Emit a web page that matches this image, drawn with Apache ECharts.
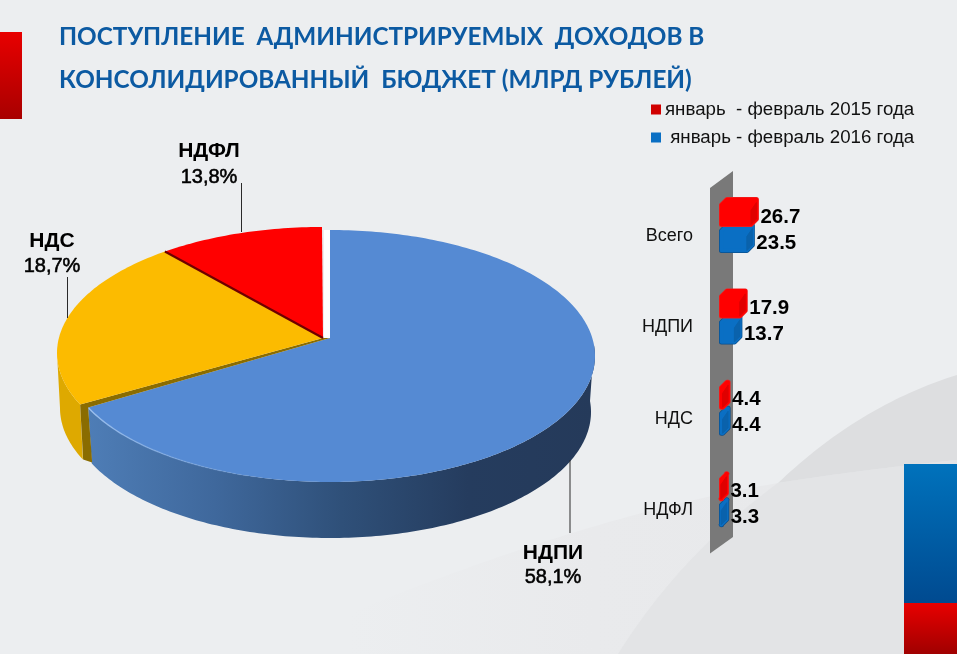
<!DOCTYPE html>
<html><head><meta charset="utf-8">
<style>html,body{margin:0;padding:0;background:#eceef0}#c{width:957px;height:654px}</style>
<script src="https://cdn.jsdelivr.net/npm/echarts@6/dist/echarts.min.js"></script>
</head><body><div id="c"></div>
<script>
// ---- data ----
const titleLines = ['ПОСТУПЛЕНИЕ  АДМИНИСТРИРУЕМЫХ  ДОХОДОВ В', 'КОНСОЛИДИРОВАННЫЙ  БЮДЖЕТ (МЛРД РУБЛЕЙ)'];
const pieNames = ['НДПИ', 'НДС', 'НДФЛ'];
const piePercentLabels = ['58,1%', '18,7%', '13,8%'];
const pieDrawnShares = [68.3, 21.6, 10.1];   // share of the circle each slice occupies in the picture
const barCategories = ['Всего', 'НДПИ', 'НДС', 'НДФЛ'];
const seriesName2015 = 'январь  - февраль 2015 года';
const seriesName2016 = ' январь - февраль 2016 года';
const values2015 = [26.7, 17.9, 4.4, 3.1];
const values2016 = [23.5, 13.7, 4.4, 3.3];

// ---- layout and style ----
const FONT = '"Liberation Sans", Arial, sans-serif';
const pieLabelPlaces = [
  {x: 553, y1: 553, y2: 577, line: [570, 460, 533]},
  {x: 52,  y1: 241, y2: 266, line: [67.5, 277, 318]},
  {x: 209, y1: 151, y2: 177, line: [241.5, 183, 232]}
];
const G = echarts.graphic;
const vGrad = (a, b) => new G.LinearGradient(0, 0, 0, 1, [{offset: 0, color: a}, {offset: 1, color: b}]);

function bez(p0, c, p1, n) {
  const out = [];
  for (let i = 0; i <= (n || 40); i++) {
    const t = i / (n || 40), u = 1 - t;
    out.push([u*u*p0[0] + 2*u*t*c[0] + t*t*p1[0], u*u*p0[1] + 2*u*t*c[1] + t*t*p1[1]]);
  }
  return out;
}
function ell(cx, cy, rx, ry, deg) {
  const a = deg * Math.PI / 180;
  return [cx + rx * Math.sin(a), cy - ry * Math.cos(a)];
}
function arc(cx, cy, rx, ry, from, to) {
  const pts = [], step = from < to ? 1 : -1;
  for (let d = from; step > 0 ? d < to : d > to; d += step) pts.push(ell(cx, cy, rx, ry, d));
  pts.push(ell(cx, cy, rx, ry, to));
  return pts;
}

const BLUE = {cx: 330, cy: 356, rx: 265, ry: 126, ax: 330, ay: 338};
const REST = {cx: 322, cy: 353, rx: 265, ry: 126, ax: 323, ay: 338};
const DEPTH = 56;
const total = pieDrawnShares.reduce((a, b) => a + b, 0);

function renderPie(params, api) {
  const i = params.dataIndex;
  let start = 0;
  for (let k = 0; k < i; k++) start += pieDrawnShares[k];
  const from = start / total * 360, to = (start + api.value(0)) / total * 360;
  const kids = [];
  if (i === 0) {
    const P = BLUE;
    const side = arc(P.cx, P.cy, P.rx, P.ry, 85, to)
      .concat(arc(P.cx, P.cy + DEPTH, 261, P.ry, to, 85));
    kids.push({type: 'polygon', shape: {points: side}, style: {
      fill: new G.LinearGradient(0, 0, 1, 0, [
        {offset: 0, color: '#4e7db6'}, {offset: 0.25, color: '#3f689c'},
        {offset: 0.5, color: '#2f5079'}, {offset: 0.75, color: '#253c5e'}, {offset: 1, color: '#253a5a'}])}});
    // white gap beside the slice start
    kids.push({type: 'polygon', shape: {points: [[324, 230], [P.ax, 230], [P.ax, P.ay], [324, 340]]}, style: {fill: '#ffffff'}});
    kids.push({type: 'polygon', shape: {points: [[P.ax, P.ay]].concat(arc(P.cx, P.cy, P.rx, P.ry, from, to))},
      style: {fill: '#558ad3'}});
    kids.push({type: 'polyline', shape: {points: arc(P.cx, P.cy, P.rx, P.ry, to, 195)}, style: {
      fill: null, lineWidth: 1.4,
      stroke: new G.LinearGradient(0, 0, 1, 0, [{offset: 0, color: '#9cc0ee'}, {offset: 1, color: 'rgba(120,165,225,0.05)'}])}});
  } else {
    const P = REST;
    const fill = i === 1 ? '#fcbb00' : '#ff0000';
    if (i === 1) {
      const side = arc(P.cx, P.cy, P.rx, P.ry, from, 270)
        .concat(arc(P.cx, P.cy + DEPTH - 1, 262, P.ry, 270, from));
      kids.push({type: 'polygon', shape: {points: side}, style: {fill: '#dea900'}});
      const e = ell(P.cx, P.cy, P.rx, P.ry, from);
      const b = ell(BLUE.cx, BLUE.cy, BLUE.rx, BLUE.ry, from);
      kids.push({type: 'polygon', shape: {points: [[P.ax, P.ay], e, [e[0] + 3, e[1] + 55], [b[0] + 4, b[1] + 55], b, [BLUE.ax, BLUE.ay]]},
        style: {fill: '#8a6c00'}});
    }
    kids.push({type: 'polygon', shape: {points: [[P.ax, P.ay]].concat(arc(P.cx, P.cy, P.rx, P.ry, from, to))}, style: {fill: fill}});
    if (i === 2) {
      kids.push({type: 'line', shape: {x1: P.ax, y1: P.ay, x2: ell(P.cx, P.cy, P.rx, P.ry, from)[0], y2: ell(P.cx, P.cy, P.rx, P.ry, from)[1]},
        style: {stroke: '#6e0000', lineWidth: 2.2}});
    }
  }
  const L = pieLabelPlaces[i];
  kids.push({type: 'line', shape: {x1: L.line[0], y1: L.line[1], x2: L.line[0], y2: L.line[2]}, style: {stroke: '#2a2a2a', lineWidth: 1}});
  kids.push({type: 'text', x: L.x, y: L.y1, style: {text: pieNames[i], fill: '#000', fontFamily: FONT, fontSize: 21, fontWeight: 'bold', align: 'center', verticalAlign: 'middle'}});
  kids.push({type: 'text', x: L.x, y: L.y2, style: {text: piePercentLabels[i], fill: '#000', stroke: '#000', lineWidth: 0.55, fontFamily: FONT, fontSize: 20, align: 'center', verticalAlign: 'middle'}});
  return {type: 'group', children: kids};
}

function barRenderer(isTop, main, sideCol, edge) {
  return function (params, api) {
    const v = api.value(0), cat = api.value(1);
    const p = api.coord([v, cat]), xv = p[0], mid = p[1];
    const x0 = api.coord([0, cat])[0] - 6, d = 8;
    const yt = isTop ? mid - 30 : mid - 4, yb = isTop ? mid : mid + 26;
    const r = 2.5;
    const hex = [[x0 + r, yb - r], [x0 + r, yt + d], [x0 + d, yt + r], [xv - r, yt + r], [xv - r, yb - d], [xv - d, yb - r]];
    const rightSide = [[xv - r, yt + r + 3], [xv - r, yb - d], [xv - d, yb - r], [xv - d, yt + d + r + 3]];
    return {type: 'group', children: [
      {type: 'polygon', shape: {points: hex}, style: {fill: edge, stroke: edge, lineWidth: 5, lineJoin: 'round'}},
      {type: 'polygon', shape: {points: hex}, style: {fill: main, stroke: main, lineWidth: 3.6, lineJoin: 'round'}},
      {type: 'polygon', shape: {points: rightSide}, style: {fill: sideCol, stroke: sideCol, lineWidth: 1, lineJoin: 'round'}},
      {type: 'text', x: xv + 1.5, y: isTop ? mid - 10 : mid + 16, style: {
        text: v.toFixed(1), fill: '#000', fontFamily: FONT, fontSize: 20.5, fontWeight: 'bold', align: 'left', verticalAlign: 'middle'}}
    ]};
  };
}

const backdrop = [
  {type: 'polygon', silent: true, z: -10, shape: {points: bez([350, 613], [590, 515], [778, 483]).concat(bez([778, 483], [860, 470], [957, 460]), [[957, 654], [350, 654]])},
    style: {fill: new G.LinearGradient(0, 0, 1, 0, [{offset: 0, color: '#eceef0'}, {offset: 0.4, color: '#e9eaec'}, {offset: 1, color: '#e7e8ea'}])}},
  {type: 'polygon', silent: true, z: -9, shape: {points: bez([778, 483], [680, 555], [618, 654]).concat([[957, 654]], bez([957, 460], [860, 470], [778, 483]))},
    style: {fill: '#e3e4e6'}},
  {type: 'polygon', silent: true, z: -9, shape: {points: bez([778, 483], [860, 405], [957, 375]).concat(bez([957, 460], [860, 470], [778, 483]))},
    style: {fill: '#dddee0'}},
  {type: 'rect', silent: true, z: -5, shape: {x: 904, y: 464, width: 53, height: 139}, style: {fill: vGrad('#0072bc', '#004a90')}},
  {type: 'rect', silent: true, z: -5, shape: {x: 904, y: 603, width: 53, height: 51}, style: {fill: vGrad('#e80000', '#a00000')}},
  {type: 'rect', silent: true, z: -5, shape: {x: 0, y: 32, width: 22, height: 87}, style: {fill: vGrad('#e80000', '#a80000')}},
  {type: 'polygon', silent: true, z: 0, shape: {points: [[710, 188], [733, 171], [733, 537], [710, 553.5]]}, style: {fill: '#797979'}}
];

const chart = echarts.init(document.getElementById('c'), null, {renderer: 'canvas'});
chart.setOption({
  animation: false,
  backgroundColor: '#eceef0',
  title: {
    text: titleLines.join('\n'), left: 59, top: 16, padding: 0,
    textStyle: {color: '#0c5aa2', fontFamily: 'Lato, "Open Sans", sans-serif', fontSize: 24.3, fontWeight: 'bold', lineHeight: 43}
  },
  legend: {
    data: [seriesName2015, seriesName2016], orient: 'vertical', left: 651, top: 100, padding: 0,
    itemWidth: 10, itemHeight: 10, itemGap: 9, icon: 'rect', selectedMode: false,
    textStyle: {fontFamily: FONT, fontSize: 18.7, color: '#111', padding: [0, 0, 0, -1]}
  },
  grid: {left: 725, width: 127, top: 181.3, height: 365.6},
  xAxis: {type: 'value', min: 0, max: 100, show: false},
  yAxis: {
    type: 'category', inverse: true, data: barCategories,
    axisLine: {show: false}, axisTick: {show: false},
    axisLabel: {fontFamily: FONT, fontSize: 18, color: '#111', margin: 32, verticalAlign: 'top'}
  },
  graphic: {elements: backdrop},
  series: [
    {type: 'custom', name: 'Поступления', coordinateSystem: 'none', silent: true, z: 2,
     renderItem: renderPie, data: pieDrawnShares.map(v => [v])},
    {type: 'custom', name: seriesName2016, z: 3, silent: true, itemStyle: {color: '#0a6fc4'},
     encode: {x: 0, y: 1}, renderItem: barRenderer(false, '#0a6fc4', '#0a62ac', '#0a4f8c'),
     data: values2016.map((v, i) => [v, i])},
    {type: 'custom', name: seriesName2015, z: 4, silent: true, itemStyle: {color: '#d00000'},
     encode: {x: 0, y: 1}, renderItem: barRenderer(true, '#ff0000', '#e00000', '#ee2020'),
     data: values2015.map((v, i) => [v, i])}
  ]
});
</script></body></html>
